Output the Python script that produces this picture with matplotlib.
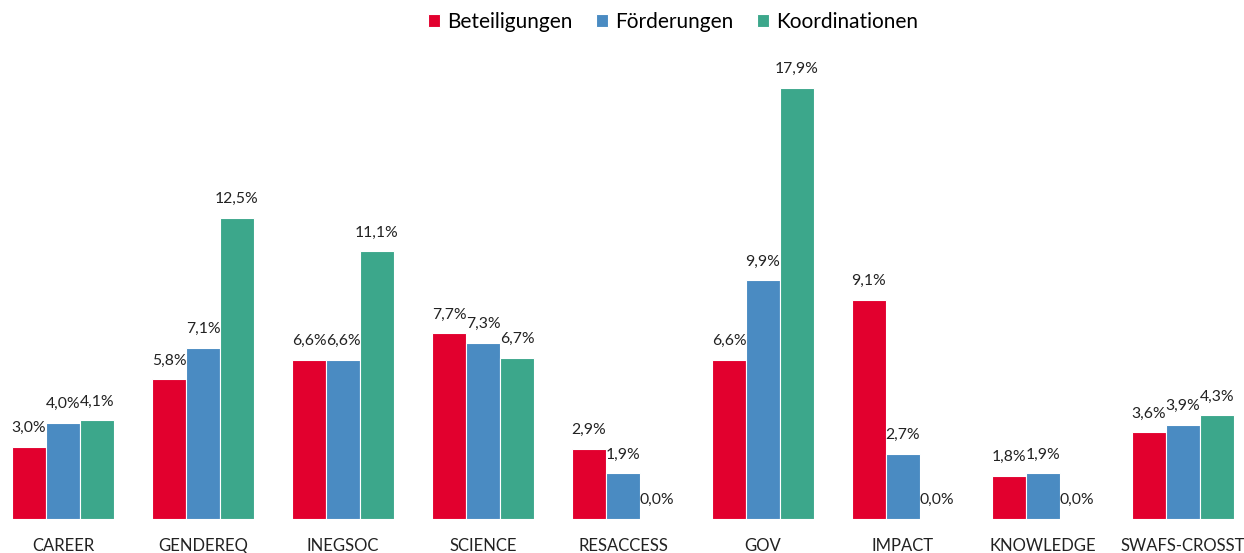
import numpy as np
import matplotlib
matplotlib.use("Agg")
import matplotlib.pyplot as plt

plt.rcParams['font.family'] = ['Lato', 'DejaVu Sans']

# data (percent)
categories = ['CAREER', 'GENDEREQ', 'INEGSOC', 'SCIENCE', 'RESACCESS',
              'GOV', 'IMPACT', 'KNOWLEDGE', 'SWAFS-CROSST']
beteiligungen = [3.0, 5.8, 6.6, 7.7, 2.9, 6.6, 9.1, 1.8, 3.6]
foerderungen = [4.0, 7.1, 6.6, 7.3, 1.9, 9.9, 2.7, 1.9, 3.9]
koordinationen = [4.1, 12.5, 11.1, 6.7, 0.0, 17.9, 0.0, 0.0, 4.3]

series = [('Beteiligungen', beteiligungen, '#E2002E'),
          ('Förderungen', foerderungen, '#4A8BC2'),
          ('Koordinationen', koordinationen, '#3CA78B')]

W, H = 1244, 553
fig = plt.figure(figsize=(W / 100, H / 100), dpi=100)
ax = fig.add_axes([0, 34 / H, 1, 482 / H])

x = np.arange(len(categories))
width = 0.243
for i, (name, vals, col) in enumerate(series):
    pos = x + (i - 1) * width
    ax.bar(pos, vals, width, color=col, edgecolor='white', linewidth=0.8,
           label=name)
    for px, v in zip(pos, vals):
        ax.annotate(f'{v:.1f}%'.replace('.', ','), (px, v),
                    xytext=(0, 13.5), textcoords='offset points',
                    ha='center', va='center', fontsize=11.3, color='#222222')

ax.set_xlim(-63 / 140, (W - 63) / 140)
ax.set_ylim(0, 20)
ax.set_xticks(x)
ax.set_xticklabels(categories, fontsize=12, color='#222222')
ax.tick_params(axis='x', length=0, pad=14)
ax.set_yticks([])
for s in ax.spines.values():
    s.set_visible(False)

fig.legend(loc='center', bbox_to_anchor=(0.541, 1 - 22 / H), ncol=3,
           frameon=False, fontsize=15, handlelength=0.55, handleheight=0.55,
           handletextpad=0.35, columnspacing=1.15)

fig.savefig('out.png', dpi=100)
